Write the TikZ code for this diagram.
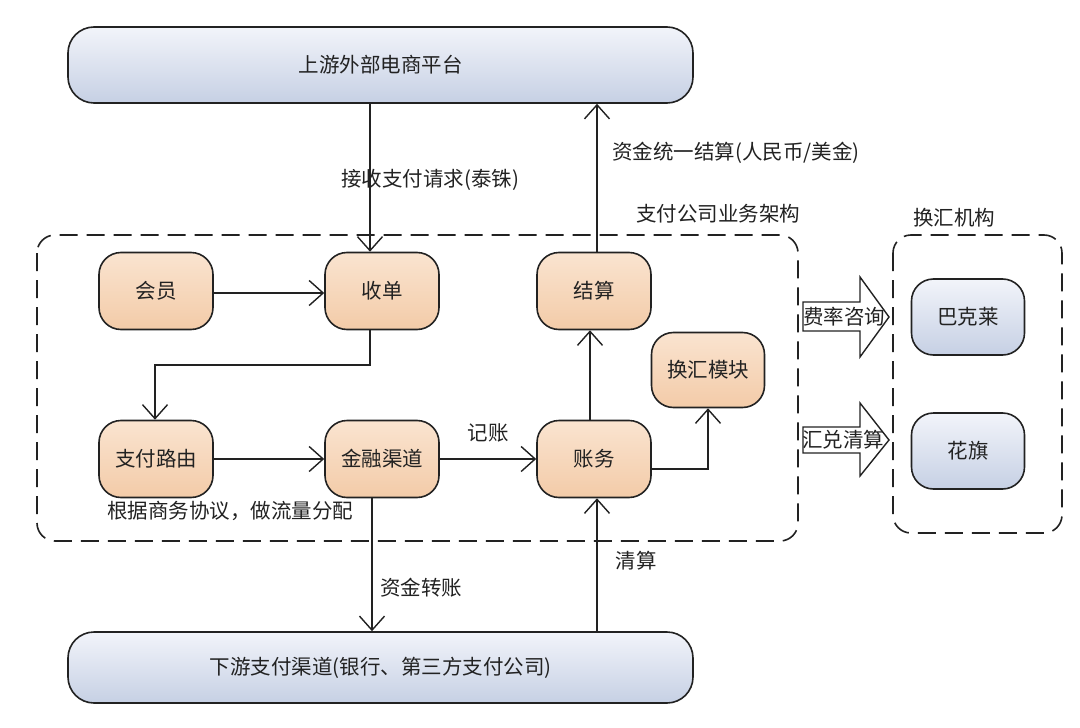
\documentclass[tikz,border=0pt]{standalone}
\usepackage{fontspec}
\setmainfont{Noto Sans CJK SC}
\usetikzlibrary{arrows.meta,positioning,calc}
\definecolor{peachT}{HTML}{FAE4D0}
\definecolor{peachB}{HTML}{F3CBA8}
\definecolor{blueT}{HTML}{F2F4FA}
\definecolor{blueB}{HTML}{C6D0E4}
\definecolor{ink}{HTML}{222222}
\tikzset{
  every node/.style={font=\fontsize{20.5}{24}\selectfont, text=ink},
  orangebox/.style={draw=ink, line width=1.6pt, rounded corners=22pt,
    top color=peachT, bottom color=peachB, minimum width=114pt, minimum height=77pt, inner sep=0pt},
  bluebox/.style={draw=ink, line width=1.6pt, rounded corners=22pt,
    top color=blueT, bottom color=blueB, minimum width=113pt, minimum height=76pt, inner sep=0pt},
  widebox/.style={draw=ink, line width=1.6pt, rounded corners=26pt,
    top color=blueT, bottom color=blueB, minimum width=625pt, inner sep=0pt},
  flow/.style={draw=ink, line width=1.4pt, -{Straight Barb[length=14pt,width=25pt,line width=1.4pt]}},
  group/.style={draw=ink, line width=1.6pt, dash pattern=on 18pt off 9pt, rounded corners=18pt},
  fat/.style={draw=ink, line width=1.4pt, fill=white, line join=miter},
  lbl/.style={inner sep=1pt}
}
\begin{document}
\begin{tikzpicture}[x=1pt,y=-1pt]
\useasboundingbox (0,0) rectangle (1080,728);
\fill[white] (0,0) rectangle (1080,728);

% reference columns / rows
\coordinate (c155) at (155,0);
\coordinate (c370) at (370,0);
\coordinate (c372) at (372,0);
\coordinate (c590) at (590,0);
\coordinate (c597) at (597,0);
\coordinate (c708) at (708,0);
\coordinate (r293) at (0,293);
\coordinate (r365) at (155,365);
\coordinate (r469) at (0,469);

% groups
\draw[group] (37,235) rectangle (798,541);
\draw[group] (893,235) rectangle (1062,533);
\node[lbl] (grp1) at (718,214) {支付公司业务架构};
\node[lbl] (grp2) at (954,218) {换汇机构};

% wide boxes
\node[widebox, minimum height=76pt] (up) at (380.5,65) {上游外部电商平台};
\node[widebox, minimum height=71pt] (down) at (380.5,667.5) {下游支付渠道(银行、第三方支付公司)};

% inner nodes
\node[orangebox] (hy) at (156,291) {会员};
\node[orangebox] (sd) at (382,291) {收单};
\node[orangebox] (js) at (594,291) {结算};
\node[orangebox, minimum width=113pt, minimum height=75pt] (hh) at (708,370) {换汇模块};
\node[orangebox] (ly) at (156,459) {支付路由};
\node[orangebox] (qd) at (382,459) {金融渠道};
\node[orangebox] (zw) at (594,459) {账务};

\node[bluebox] (bkl) at (968,317) {巴克莱};
\node[bluebox] (hq) at (968,451) {花旗};

% connectors
\draw[flow] (up.south -| c370) -- (sd.north -| c370);
\node[lbl] (l1) at (430,180) {接收支付请求(泰铢)};
\draw[flow] (js.north -| c597) -- (up.south -| c597);
\node[lbl] (l2) at (736,153) {资金统一结算(人民币/美金)};

\draw[flow] (hy.east |- r293) -- (sd.west |- r293);
\draw[flow] (sd.south -| c370) |- (r365) -- (ly.north -| c155);
\draw[flow] (ly.east) -- (qd.west);
\draw[flow] (qd.east) -- (zw.west);
\node[lbl] (l3) at (488,433) {记账};
\draw[flow] (zw.north -| c590) -- (js.south -| c590);
\draw[flow] (zw.east |- r469) -| (hh.south -| c708);
\node[lbl] (l4) at (230,511) {根据商务协议，做流量分配};

\draw[flow] (qd.south -| c372) -- (down.north -| c372);
\node[lbl] (l5) at (421,588) {资金转账};
\draw[flow] (down.north -| c597) -- (zw.south -| c597);
\node[lbl] (l6) at (636,561) {清算};

% block arrows
\draw[fat] (803,302) -- (860,302) -- (860,277) -- (889,317) -- (860,357) -- (860,331) -- (803,331) -- cycle;
\node[lbl] (fa1) at (844,317) {费率咨询};
\draw[fat] (803,427) -- (860,427) -- (860,403) -- (889,440) -- (860,476) -- (860,453) -- (803,453) -- cycle;
\node[lbl] (fa2) at (843,440) {汇兑清算};
\end{tikzpicture}
\end{document}
